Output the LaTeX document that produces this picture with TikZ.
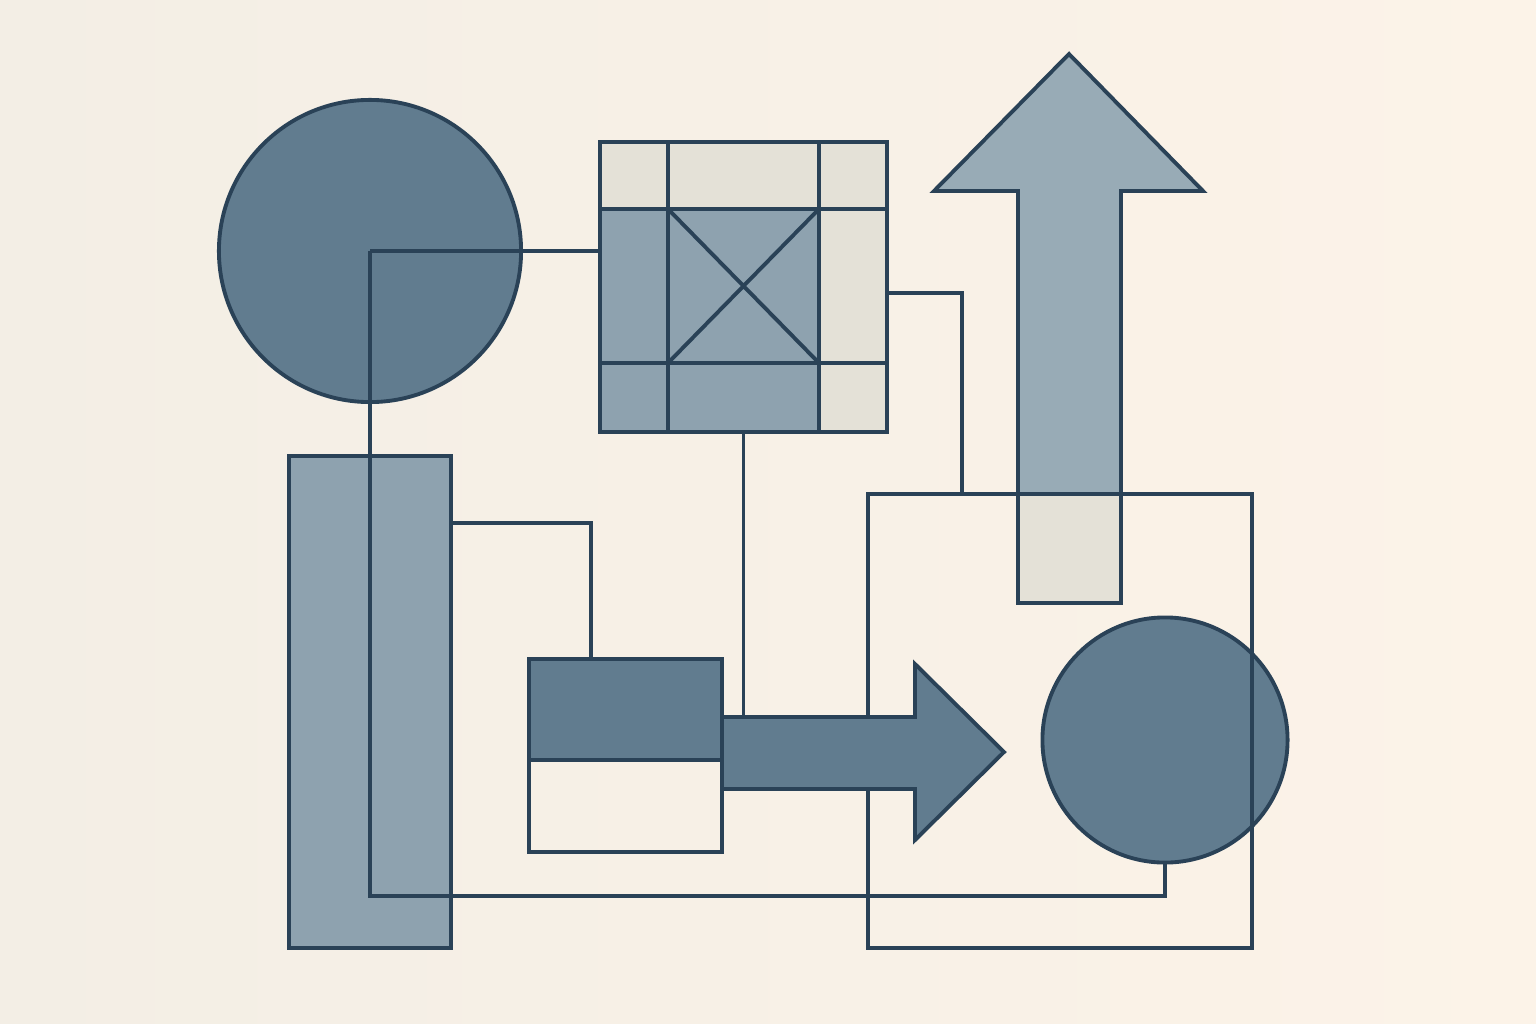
\documentclass[tikz,border=0pt]{standalone}
\usepackage{tikz}
\definecolor{inkline}{HTML}{2A4257}
\definecolor{deep}{HTML}{617C8F}
\definecolor{mist}{HTML}{8EA2AF}
\definecolor{haze}{HTML}{98ABB6}
\definecolor{sand}{HTML}{E4E1D7}
\definecolor{paperL}{HTML}{F3EEE5}
\definecolor{paperR}{HTML}{FCF3E8}
\tikzset{
  blok/.style={draw=inkline, line width=1.1pt, inner sep=0pt, outer sep=0pt},
  wire/.style={draw=inkline, line width=1.1pt},
}

\begin{document}
\begin{tikzpicture}[x=0.01cm, y=-0.01cm]
\shade[left color=paperL, right color=paperR] (0,0) rectangle (1536,1024);
\useasboundingbox (0,0) rectangle (1536,1024);

\node[blok, circle, fill=deep, minimum size=3.02cm] (disc) at (370,251) {};
\node[blok, fill=mist, minimum width=1.62cm, minimum height=4.92cm] (pillar) at (370,702) {};

\node[fill=mist, inner sep=0pt, outer sep=0pt, minimum width=2.87cm, minimum height=2.90cm] (grid) at (743.5,287) {};
\fill[sand] (600,142) rectangle (887,209);
\fill[sand] (819,142) rectangle (887,432);
\draw[wire] (grid.north west) rectangle (grid.south east);
\foreach \gx in {668,819} \draw[wire] (\gx,142) -- (\gx,432);
\foreach \gy in {209,363} \draw[wire] (600,\gy) -- (887,\gy);
\draw[wire] (668,209) -- (819,363) (668,363) -- (819,209);

\coordinate (peak) at (1069,54);
\filldraw[wire, fill=haze] (peak) -- (1203,191) -- (1121,191) -- (1121,603) -- (1018,603) -- (1018,191) -- (934,191) -- cycle;
\filldraw[wire, fill=sand] (1018,494) rectangle (1121,603);

\node[blok, minimum width=1.93cm, minimum height=1.93cm] (block) at (625.5,755.5) {};
\filldraw[wire, fill=deep] (block.north west) rectangle (block.east |- 0,760);

\node[blok, circle, fill=deep, minimum size=2.45cm] (dot) at (1165,740) {};

\coordinate (base) at (370,896);
\draw[wire] (disc.center) -- (disc.center -| grid.west);
\draw[wire] (disc.center) -- (base) -| (dot.south);

\coordinate (kneeL) at (591,523);
\draw[wire] (pillar.east |- kneeL) -| (block.north -| kneeL);

\node[blok, minimum width=3.84cm, minimum height=4.54cm] (frame) at (1060,721) {};
\coordinate (kneeR) at (962,293);
\draw[wire] (grid.east |- kneeR) -| (frame.north -| kneeR);

\coordinate (tail) at (722,717);
\draw[wire] (grid.south) -- (grid.south |- tail);
\filldraw[wire, fill=deep] (tail) -- (915,717) -- (915,664) -- (1004,752) -- (915,840) -- (915,789) -- (722,789) -- cycle;
\end{tikzpicture}
\end{document}
